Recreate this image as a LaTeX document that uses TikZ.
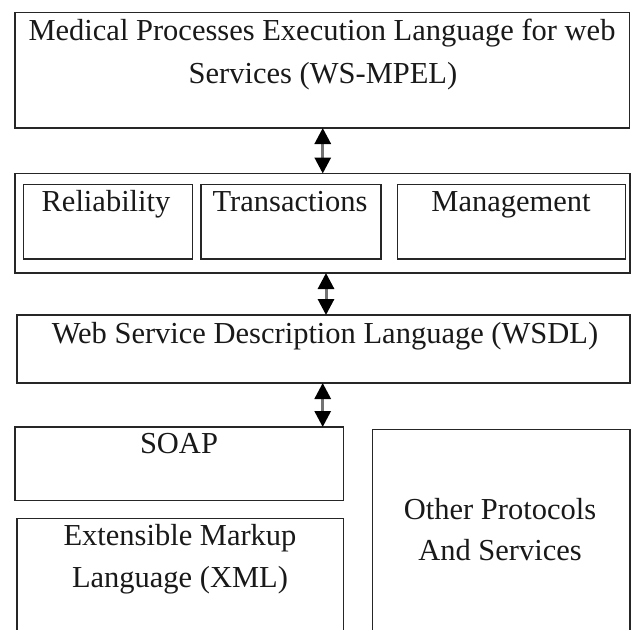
\documentclass[tikz,border=0pt]{standalone}
\usepackage{fontspec}
\setmainfont{Liberation Serif}
\usetikzlibrary{arrows.meta,calc}
\begin{document}
\begin{tikzpicture}[x=1pt,y=-1pt,
  box/.style={draw=black!85,line width=1.5pt,rectangle,inner sep=0pt,outer sep=0pt,anchor=north west},
  lbl/.style={inner sep=0pt,anchor=base,font=\fontsize{30.5}{42}\selectfont,text=black!90},
  link/.style={draw=black!55,line width=3pt,
    {Triangle[width=16pt,length=16pt,color=black]}-{Triangle[width=16pt,length=16pt,color=black]}}]
\useasboundingbox (0,0) rectangle (631,629);
\clip (0,0) rectangle (631,629);
\fill[white] (0,0) rectangle (631,629);
% boxes
\node[box,minimum width=614.5pt,minimum height=115.3pt] (top) at (15,12.7) {};
\node[box,minimum width=615pt,minimum height=99.5pt] (mid) at (15,173.5) {};
\node[box,minimum width=169pt,minimum height=74.3pt] (rel) at (23.3,184.7) {};
\node[box,minimum width=180pt,minimum height=74.3pt] (tra) at (201,184.7) {};
\node[box,minimum width=228pt,minimum height=74.3pt] (man) at (397.5,184.7) {};
\node[box,minimum width=613pt,minimum height=68pt] (wsdl) at (17,315) {};
\node[box,minimum width=328.5pt,minimum height=73.5pt] (soap) at (15,427) {};
\node[box,minimum width=326.5pt,minimum height=130pt] (xml) at (17,518.5) {};
\node[box,minimum width=257.5pt,minimum height=220pt] (oth) at (372.5,429.5) {};
% texts
\node[lbl] (t1) at (322,40) {Medical Processes Execution Language for web};
\node[lbl] (t2) at (323,83) {Services (WS-MPEL)};
\node[lbl] (t3) at (106,211.5) {Reliability};
\node[lbl] (t4) at (290,211.5) {Transactions};
\node[lbl] (t5) at (511,211.5) {Management};
\node[lbl] (t6) at (325,343) {Web Service Description Language (WSDL)};
\node[lbl] (t7) at (179,453) {SOAP};
\node[lbl] (t8) at (180,545) {Extensible Markup};
\node[lbl] (t9) at (180,587) {Language (XML)};
\node[lbl] (t10) at (500,519) {Other Protocols};
\node[lbl] (t11) at (500,560) {And Services};
% connectors
\draw[link] ([xshift=0.5pt]top.south) -- ([xshift=0.5pt]top.south |- mid.north);
\draw[link] ([xshift=3.5pt]mid.south) -- ([xshift=3.5pt]mid.south |- wsdl.north);
\draw[link] ([xshift=-0.8pt]wsdl.south) -- ([xshift=-0.8pt]wsdl.south |- soap.north);
\end{tikzpicture}
\end{document}
